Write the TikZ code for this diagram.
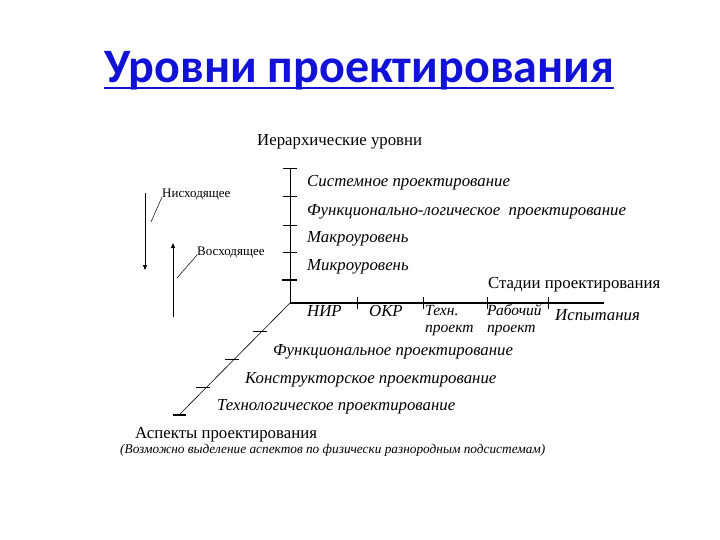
\documentclass[tikz,border=0pt]{standalone}
\usepackage{fontspec}
\setmainfont{Liberation Serif}
\newfontfamily\titlefont{Carlito}
\usetikzlibrary{arrows.meta, positioning}
\definecolor{titleblue}{RGB}{18,18,215}

\begin{document}
\begin{tikzpicture}[
    x=1pt, y=-1pt,
    lbl/.style={anchor=base west, inner sep=0pt, font=\fontsize{16.8}{19}\selectfont},
    itl/.style={anchor=base west, inner sep=0pt, font=\fontsize{16.8}{19}\selectfont\itshape},
    itlx/.style={itl, font=\fontsize{15.5}{17}\selectfont\itshape},
    small/.style={anchor=base west, inner sep=0pt, font=\fontsize{13}{15}\selectfont},
    axis/.style={draw, line width=1.4pt},
    tick/.style={draw, line width=0.8pt},
    dir/.style={draw, line width=0.9pt, -{Triangle[width=4pt,length=5pt]}},
    lead/.style={draw, line width=0.5pt}
]
    \useasboundingbox (0,0) rectangle (720,540);

    \node [anchor=base west, inner sep=0pt, text=titleblue, font=\fontsize{48}{54}\selectfont\titlefont\bfseries] (title) at (104,83) {Уровни проектирования};
    \draw [titleblue, line width=2.8pt] ([yshift=-5pt]title.base west) -- ([yshift=-5pt]title.base east);

    % axes
    \coordinate (O) at (290,303);
    \coordinate (vtop) at (290,168);
    \coordinate (hend) at (604,303);
    \coordinate (dend) at (179,415);
    \path [axis, line width=1pt] (O) -- (vtop);
    \path [axis] (O) -- (hend);
    \path [draw, line width=0.6pt] (O) -- (dend);

    \foreach \y in {168,196,225,252} \path [tick] (283,\y) -- (297,\y);
    \path [tick, line width=1.6pt] (282,280) -- (297,280);
    \foreach \x in {357,423,487,548} \path [tick] (\x,297) -- (\x,309);
    \foreach \x/\y in {260/331,232/359,203/387} \path [tick, line width=0.6pt] (\x-7,\y) -- (\x+7,\y);
    \path [tick, line width=1.6pt] ([xshift=-6pt]dend) -- ([xshift=7pt]dend);

    % hierarchy
    \node [lbl] (hier) at (257,146) {Иерархические уровни};
    \node [itl] (sys) at (307,187) {Системное проектирование};
    \node [itl] (fl) at (307,215) {Функционально-логическое\ \ проектирование};
    \node [itl] (macro) at (307,242) {Макроуровень};
    \node [itl] (micro) at (307,270) {Микроуровень};

    % stages
    \node [lbl] (stages) at (488,288) {Стадии проектирования};
    \node [itl] (nir) at (307,316) {НИР};
    \node [itl] (okr) at (369,316) {ОКР};
    \node [itlx] (tech) at (425,315) {Техн.};
    \node [itlx] (techp) at (425,332) {проект};
    \node [itlx] (work) at (487,315) {Рабочий};
    \node [itlx] (workp) at (487,332) {проект};
    \node [itl] (test) at (555,320) {Испытания};

    % aspects
    \node [itl] (func) at (273,355) {Функциональное проектирование};
    \node [itl] (constr) at (245,383) {Конструкторское проектирование};
    \node [itl] (techn) at (217,410) {Технологическое проектирование};
    \node [lbl] (asp) at (135,438) {Аспекты проектирования};
    \node [anchor=base west, inner sep=0pt, font=\fontsize{13.3}{15}\selectfont\itshape] (note) at (120,453) {(Возможно выделение аспектов по физически разнородным подсистемам)};

    % directions
    \coordinate (dtop) at (145,193);
    \coordinate (dbot) at (145,270);
    \coordinate (utop) at (173,243);
    \coordinate (ubot) at (173,317);
    \path [dir] (dtop) -- (dbot);
    \path [dir] (ubot) -- (utop);
    \node [small] (down) at (162,197) {Нисходящее};
    \node [small] (up) at (197,255) {Восходящее};
    \coordinate (dl) at (151,222);
    \coordinate (ul) at (177,278);
    \path [lead] (dl) -- (down.base west);
    \path [lead] (ul) -- (up.base west);
\end{tikzpicture}
\end{document}
